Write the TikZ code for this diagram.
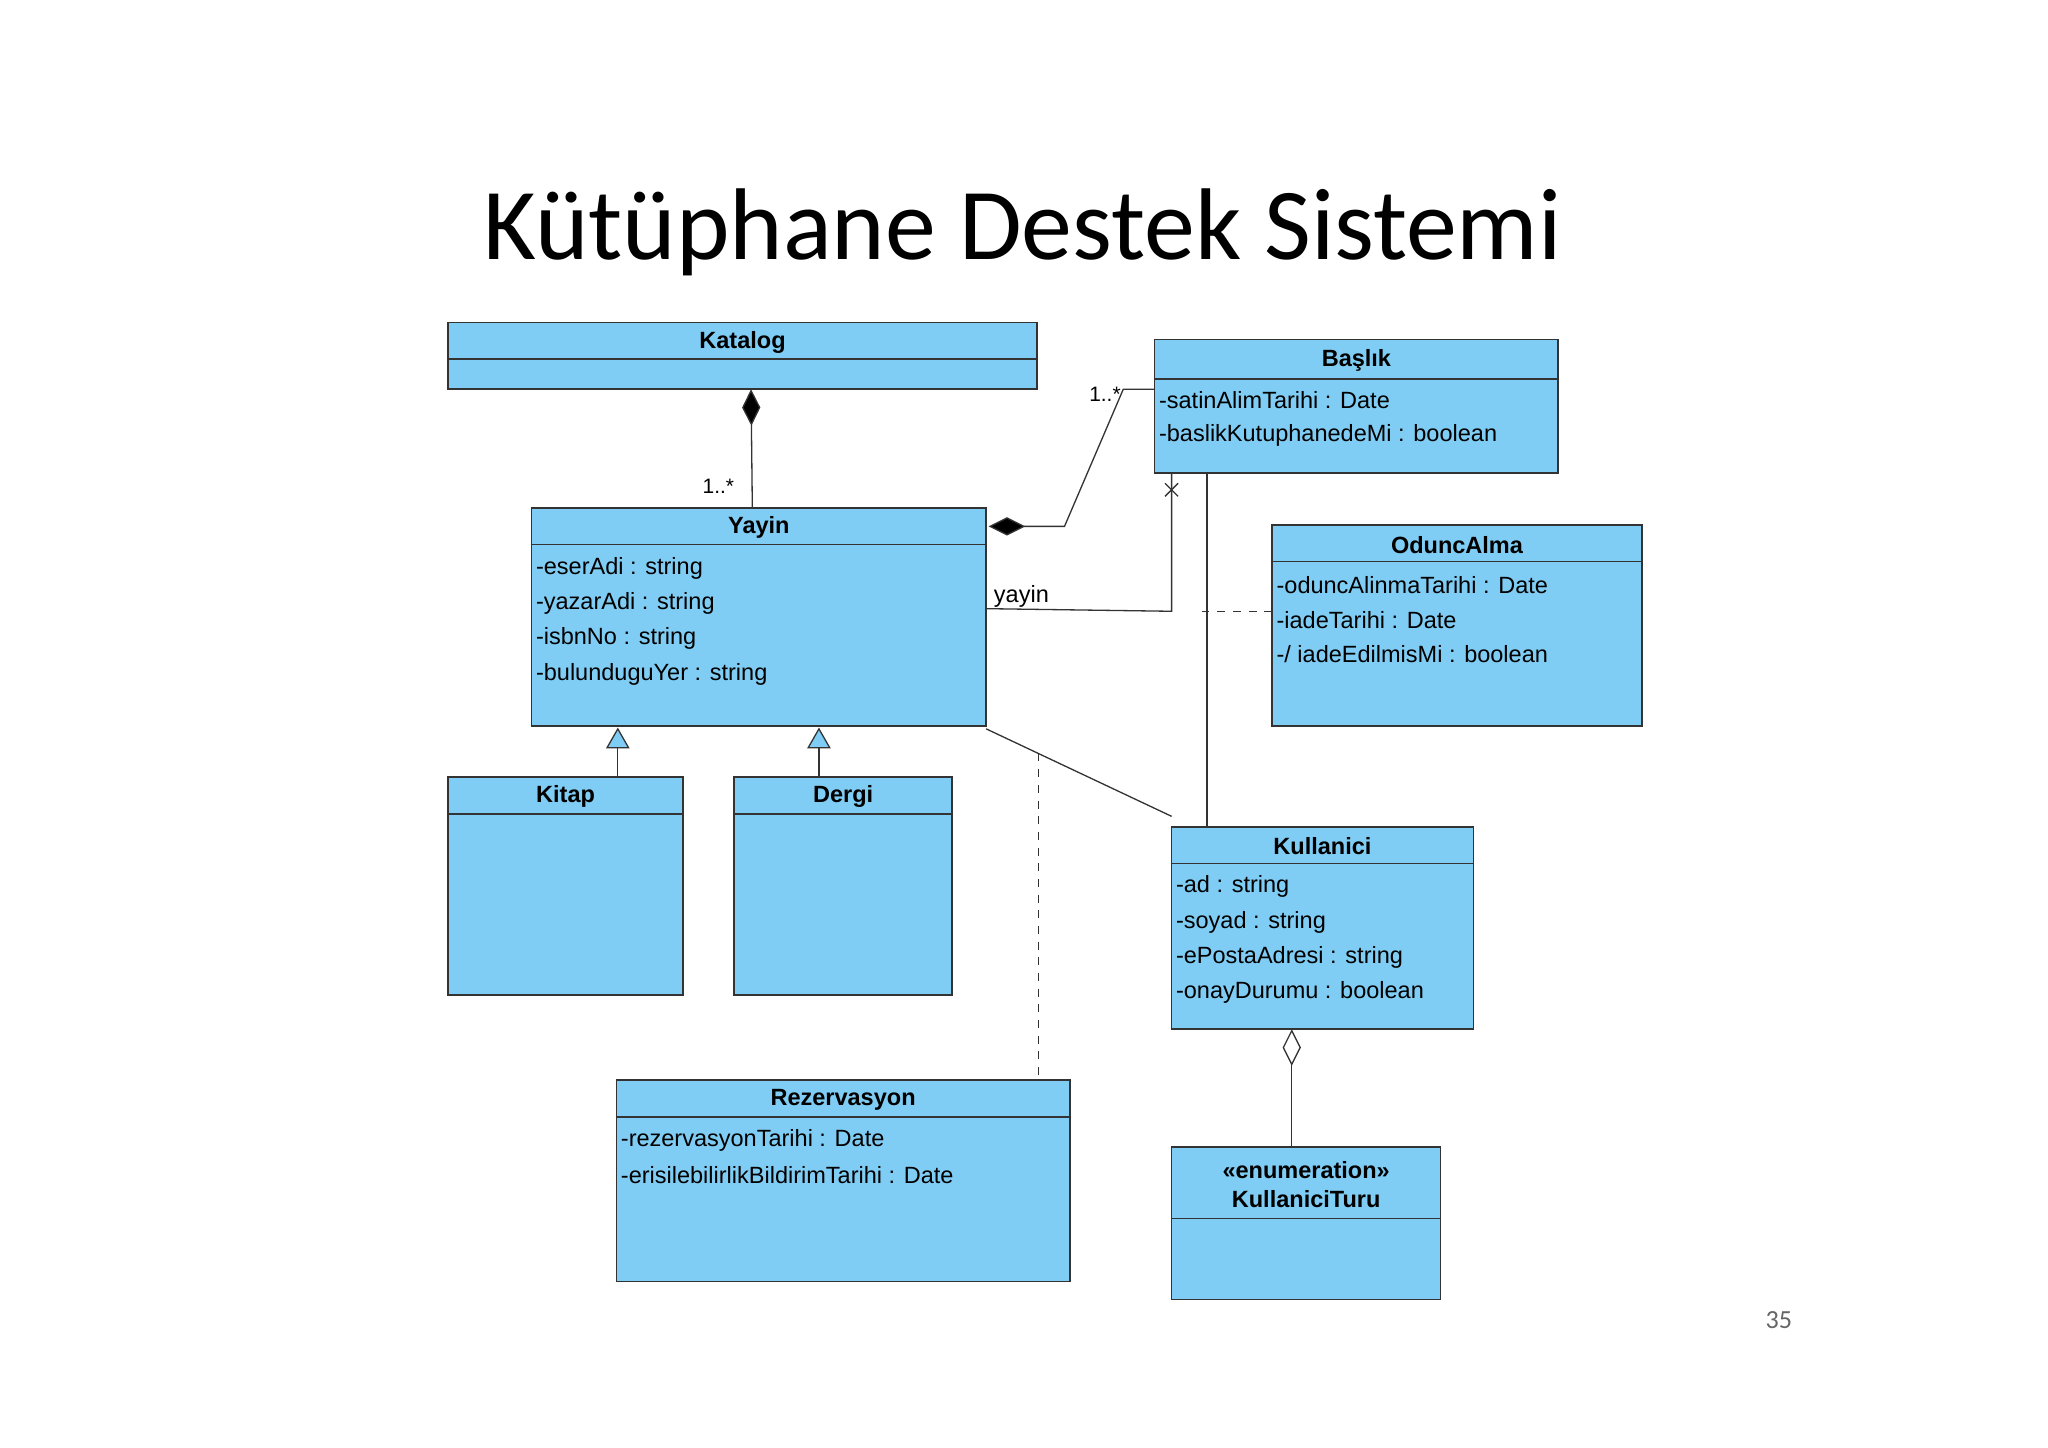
\documentclass[tikz,border=0pt]{standalone}
\usepackage{fontspec}
\setmainfont{Liberation Sans}
\newfontfamily\titlefont{Carlito}
\usetikzlibrary{arrows.meta}
\definecolor{umlblue}{HTML}{7FCDF4}
\tikzset{
  box/.style={draw=black!80,fill=umlblue,line width=0.6pt,anchor=north west,inner sep=0pt,outer sep=0pt},
  hdr/.style={font=\fontsize{9}{10}\selectfont\bfseries,inner sep=0pt},
  attr/.style={font=\fontsize{9}{10}\selectfont,anchor=west,inner sep=0pt},
  conn/.style={draw=black!80,line width=0.5pt},
  lbl/.style={font=\fontsize{8}{9}\selectfont,inner sep=0pt}
}
\newcommand{\umlcls}[7]{% name x1 y1 x2 y2 div title
  \pgfmathsetmacro\ww{0.5*(#4-#2)}\pgfmathsetmacro\hh{0.5*(#5-#3)}
  \node[box,minimum width=\ww pt,minimum height=\hh pt] (#1) at (#2,#3) {};
  \draw[black!80,line width=0.6pt] (#2,#6) -- (#4,#6);
  \node[hdr] at ({(#2+#4)/2},{(#3+#6)/2+1}) {#7};
}
\begin{document}
\begin{tikzpicture}[x=0.5pt,y=-0.5pt]
\useasboundingbox (0,0) rectangle (1568,1108);
\node[font=\titlefont\fontsize{39}{44}\selectfont] (title) at (783,178) {Kütüphane Destek Sistemi};
\node[font=\titlefont\fontsize{10}{12}\selectfont,text=black!60] (pg) at (1362,1011) {35};

\umlcls{katalog}{343}{247}{794}{298}{275}{Katalog}
\umlcls{baslik}{884}{260}{1193}{362}{290}{Başlık}
\node[attr] at (887,306) {-satinAlimTarihi : Date};
\node[attr] at (887,333) {-baslikKutuphanedeMi : boolean};
\umlcls{yayin}{407}{389}{755}{556}{417}{Yayin}
\node[attr] at (410,435) {-eserAdi : string};
\node[attr] at (410,462) {-yazarAdi : string};
\node[attr] at (410,489) {-isbnNo : string};
\node[attr] at (410,516) {-bulunduguYer : string};
\umlcls{odunc}{974}{402}{1257}{556}{430}{OduncAlma}
\node[attr] at (977,448) {-oduncAlinmaTarihi : Date};
\node[attr] at (977,475) {-iadeTarihi : Date};
\node[attr] at (977,501) {-/ iadeEdilmisMi : boolean};
\umlcls{kitap}{343}{595}{523}{762}{623}{Kitap}
\umlcls{dergi}{562}{595}{729}{762}{623}{Dergi}
\umlcls{kull}{897}{633}{1128}{788}{661}{Kullanici}
\node[attr] at (900,679) {-ad : string};
\node[attr] at (900,706) {-soyad : string};
\node[attr] at (900,733) {-ePostaAdresi : string};
\node[attr] at (900,760) {-onayDurumu : boolean};
\umlcls{rez}{472}{827}{819}{981}{855}{Rezervasyon}
\node[attr] at (475,873) {-rezervasyonTarihi : Date};
\node[attr] at (475,900) {-erisilebilirlikBildirimTarihi : Date};
% enumeration
\node[box,minimum width=103pt,minimum height=58.5pt] (ktur) at (897,878) {};
\draw[black!80,line width=0.6pt] (897,933) -- (1103,933);
\node[hdr,align=center] at (1000,907) {<<enumeration>>\\[1pt]KullaniciTuru};

% Katalog - Yayin composition
\draw[conn,-{Diamond[fill=black,length=14pt,width=7pt]}] (yayin.north -| 576,0) ++(0,0) coordinate (ya) (576,389) -- (575,298);
\node[lbl] at (550,372) {1..*};
% Yayin - Baslik composition
\coordinate (b1) at (815,403);
\coordinate (b2) at (860,298);
\draw[conn,{Diamond[fill=black,length=14pt,width=7pt]}-] (757,403) -- (b1) -- (b2) -- (884,298);
\node[lbl] at (846,302) {1..*};
% yayin association
\draw[conn] (755,466) -- (897,468) -- (897,362);
\draw[conn] (892,370) -- (902,380) (892,380) -- (902,370);
\node[font=\fontsize{9}{10}\selectfont,inner sep=0pt] at (782,457) {yayin};
\draw[conn,dashed] (920,468) -- (974,468);
% Baslik - Kullanici
\draw[conn] (924,362) -- (924,633);
% Yayin - Kullanici
\coordinate (yk) at (795,577);
\draw[conn] (755,558) -- (897,625);
\draw[conn,dashed] (yk) -- (795,827);
% generalizations
\draw[conn,-{Triangle[open,fill=umlblue,length=8pt,width=9pt]}] (473,595) -- (473,557);
\draw[conn,-{Triangle[open,fill=umlblue,length=8pt,width=9pt]}] (627,595) -- (627,557);
% aggregation
\draw[conn,-{Diamond[open,fill=white,length=14pt,width=7pt]}] (989,878) -- (989,788);
\end{tikzpicture}
\end{document}
